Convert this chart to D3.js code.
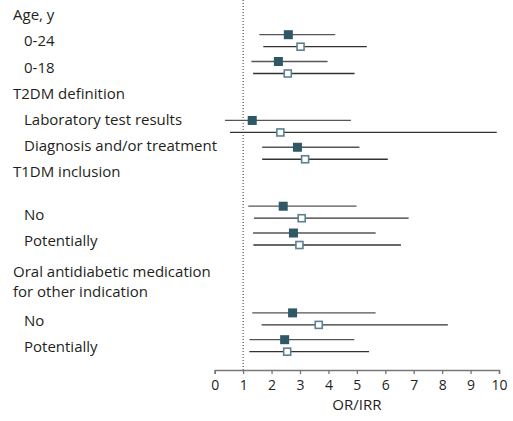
<!DOCTYPE html>
<html>
<head>
<meta charset="utf-8">
<script src="https://cdn.jsdelivr.net/npm/d3@7"></script>
<style>
  body { margin: 0; background: #fff; }
  text { font-family: "Open Sans", "Noto Sans", sans-serif; fill: #231f20; }
</style>
</head>
<body>
<div id="forest-container"></div>
<script>
// groups and their subgroups (header text may wrap over two lines)
const groups = ["Age, y", "T2DM definition", "T1DM inclusion", "Oral antidiabetic medication\nfor other indication"];
const subgroups = [
  ["0-24", "0-18"],
  ["Laboratory test results", "Diagnosis and/or treatment"],
  ["No", "Potentially"],
  ["No", "Potentially"]
];

// filled squares (OR) and open squares (IRR), one value per subgroup, in order
const orEst  = [2.59, 2.24, 1.32, 2.91, 2.41, 2.77, 2.74, 2.46];
const orLow  = [1.57, 1.29, 0.36, 1.67, 1.18, 1.35, 1.32, 1.22];
const orHigh = [4.24, 3.97, 4.79, 5.09, 4.99, 5.66, 5.66, 4.91];
const irrEst  = [3.02, 2.57, 2.31, 3.18, 3.06, 2.98, 3.66, 2.55];
const irrLow  = [1.71, 1.35, 0.54, 1.67, 1.38, 1.36, 1.65, 1.22];
const irrHigh = [5.35, 4.92, 9.92, 6.09, 6.82, 6.55, 8.20, 5.43];

const xTicks = [0, 1, 2, 3, 4, 5, 6, 7, 8, 9, 10];
const xLabel = "OR/IRR";

/** CONSTANTS */
const width = 513;
const height = 421;
const plot = { left: 214.7, right: 499, axisY: 370 };
const pairOffset = 6;   // filled row above, open row below the subgroup centre

/** ROW LAYOUT */
// marker rows: one slot per subgroup, a larger gap before each new group
const rows = [];
let slot = 0;
groups.forEach((g, gi) => {
  const nLines = g.split("\n").length;
  if (gi > 0) slot += 2.2 + (nLines - 1) * 0.78;
  subgroups[gi].forEach((s, si) => {
    rows.push({ id: gi + "-" + si, label: s, slot: slot });
    slot += 1;
  });
  slot -= 1;
});
rows.forEach((r, i) => {
  r.orEst = orEst[i]; r.orLow = orLow[i]; r.orHigh = orHigh[i];
  r.irrEst = irrEst[i]; r.irrLow = irrLow[i]; r.irrHigh = irrHigh[i];
});

// label lines on the left, typeset as a separate text block
const lines = [];
let cursor = 14.7;
groups.forEach((g, gi) => {
  if (gi === 3) cursor += 5;
  g.split("\n").forEach(t => {
    lines.push({ text: t, indent: false, y: cursor });
    cursor += 20.5;
  });
  cursor += 26.2 - 20.5;
  if (gi === 2) cursor += 16;
  if (gi === 3) cursor += 2;
  subgroups[gi].forEach(s => {
    lines.push({ text: s, indent: true, y: cursor });
    cursor += 26.2;
  });
});

/** SCALES */
const xScale = d3.scaleLinear()
  .domain([0, 10])
  .range([plot.left, plot.right]);

const yScale = d3.scaleLinear()
  .domain([0, 1])
  .range([40.7, 67.5]);

/** DRAWING ELEMENTS */
const svg = d3.select("#forest-container")
  .append("svg")
  .attr("width", width)
  .attr("height", height);

// left labels
svg.selectAll("text.label")
  .data(lines)
  .join("text")
  .attr("class", "label")
  .attr("x", d => d.indent ? 24 : 13)
  .attr("y", d => d.y)
  .attr("dy", "0.36em")
  .style("font-size", "15px")
  .text(d => d.text);

// reference line at 1
svg.append("line")
  .attr("x1", xScale(1))
  .attr("x2", xScale(1))
  .attr("y1", 0)
  .attr("y2", plot.axisY)
  .attr("stroke", "#333")
  .attr("stroke-width", 1)
  .attr("stroke-dasharray", "1,2");

// confidence interval lines
const ciG = svg.append("g");
ciG.selectAll("line.or")
  .data(rows)
  .join("line")
  .attr("class", "or")
  .attr("x1", d => xScale(d.orLow))
  .attr("x2", d => xScale(d.orHigh))
  .attr("y1", d => yScale(d.slot) - pairOffset)
  .attr("y2", d => yScale(d.slot) - pairOffset)
  .attr("stroke", "#555")
  .attr("stroke-width", 1.3);

ciG.selectAll("line.irr")
  .data(rows)
  .join("line")
  .attr("class", "irr")
  .attr("x1", d => xScale(d.irrLow))
  .attr("x2", d => xScale(d.irrHigh))
  .attr("y1", d => yScale(d.slot) + pairOffset)
  .attr("y2", d => yScale(d.slot) + pairOffset)
  .attr("stroke", "#333")
  .attr("stroke-width", 1.3);

// point estimates
const filled = 9;
svg.selectAll("rect.or")
  .data(rows)
  .join("rect")
  .attr("class", "or")
  .attr("x", d => xScale(d.orEst) - filled / 2)
  .attr("y", d => yScale(d.slot) - pairOffset - filled / 2)
  .attr("width", filled)
  .attr("height", filled)
  .attr("fill", "#2f5866");

const open = 7;
svg.selectAll("rect.irr")
  .data(rows)
  .join("rect")
  .attr("class", "irr")
  .attr("x", d => xScale(d.irrEst) - open / 2)
  .attr("y", d => yScale(d.slot) + pairOffset - open / 2)
  .attr("width", open)
  .attr("height", open)
  .attr("fill", "#fff")
  .attr("stroke", "#5d8190")
  .attr("stroke-width", 1.6);

// x axis
const axis = svg.append("g")
  .attr("transform", `translate(0,${plot.axisY})`)
  .call(d3.axisBottom(xScale).tickValues(xTicks).tickSize(4).tickPadding(6).tickSizeOuter(4));
axis.select(".domain").attr("stroke", "#777").attr("stroke-width", 1.5);
axis.selectAll(".tick line").attr("stroke", "#777").attr("stroke-width", 1.3);
axis.selectAll(".tick text")
  .style("font-family", "'Open Sans', 'Noto Sans', sans-serif")
  .style("font-size", "14px")
  .attr("fill", "#231f20");

svg.append("text")
  .attr("x", xScale(5))
  .attr("y", 410)
  .attr("text-anchor", "middle")
  .style("font-size", "15px")
  .text(xLabel);
</script>
</body>
</html>
